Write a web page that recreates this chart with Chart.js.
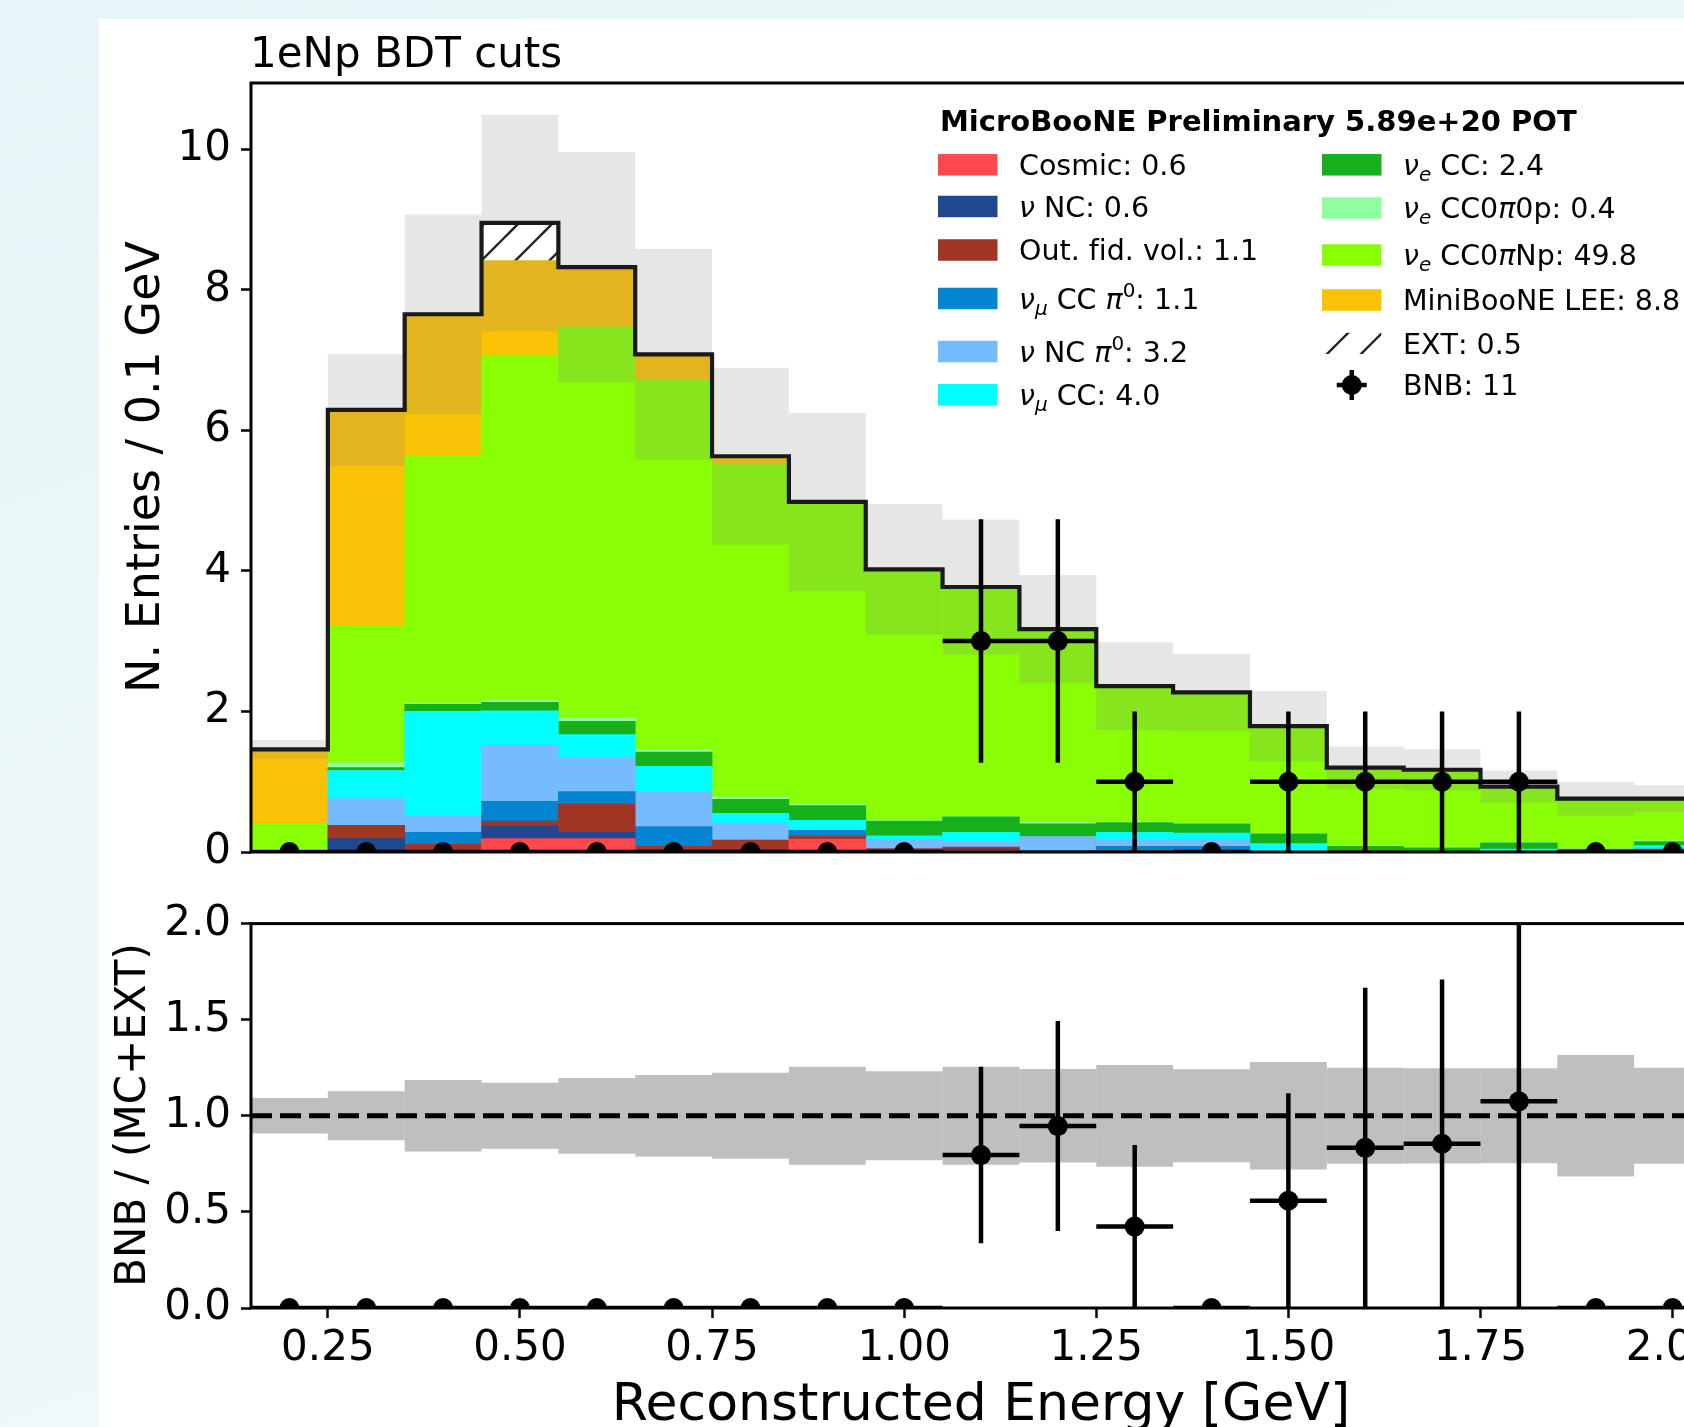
<!DOCTYPE html>
<html>
<head>
<meta charset="utf-8">
<title>1eNp BDT cuts</title>
<script src="https://cdn.jsdelivr.net/npm/chart.js@4.4.1/dist/chart.umd.min.js"></script>
<style>
  html, body { margin: 0; padding: 0; overflow: hidden; }
  body {
    width: 1684px; height: 1427px; position: relative;
    background: linear-gradient(160deg, #e7f5f8 0%, #f1fafc 100%);
  }
  #sheet { position: absolute; left: 99px; top: 19px; right: 0; bottom: 0; background: #fff; }
  #wrap { position: absolute; left: 0; top: 0; width: 1684px; height: 1427px; overflow: hidden; }
  #wrap canvas { position: absolute; left: 0; }
  #main { top: 0; }
  #ratio { top: 880px; }
</style>
</head>
<body>
<div id="sheet"></div>
<div id="wrap">
  <canvas id="main" width="1760" height="880"></canvas>
  <canvas id="ratio" width="1760" height="547"></canvas>
</div>
<script>
const FONT = '"DejaVu Sans", sans-serif';
Chart.defaults.font.family = FONT;
Chart.defaults.color = '#000';

// 0.1 GeV bins from 0.15 to 2.05 GeV
const binCenters = [0.2, 0.3, 0.4, 0.5, 0.6, 0.7, 0.8, 0.9, 1.0, 1.1, 1.2, 1.3, 1.4, 1.5, 1.6, 1.7, 1.8, 1.9, 2.0];
const binWidth = 0.1;
const xRange = [0.15, 2.05];
const xTicks = [0.25, 0.5, 0.75, 1.0, 1.25, 1.5, 1.75, 2.0];
const yTicksMain = [0, 2, 4, 6, 8, 10];
const yMaxMain = 10.94;
const yTicksRatio = [0, 0.5, 1.0, 1.5, 2.0];

// predicted events per bin, one array per category (stack order, bottom first)
const cosmic     = [0, 0, 0, 0.19, 0.19, 0, 0, 0.18, 0, 0.02, 0, 0, 0, 0, 0, 0, 0, 0, 0.02];
const nuNC       = [0, 0.19, 0.02, 0.18, 0.09, 0.03, 0.03, 0, 0.03, 0.02, 0.02, 0, 0.01, 0, 0, 0, 0, 0, 0];
const outFV      = [0, 0.19, 0.09, 0.07, 0.40, 0.05, 0.14, 0.05, 0.02, 0.03, 0, 0.02, 0, 0, 0.02, 0, 0, 0, 0.02];
const numuCCpi0  = [0, 0, 0.17, 0.28, 0.18, 0.28, 0, 0.08, 0, 0, 0, 0.06, 0.07, 0, 0, 0, 0, 0, 0];
const nuNCpi0    = [0, 0.38, 0.24, 0.80, 0.49, 0.49, 0.24, 0, 0.13, 0.08, 0.20, 0.09, 0.10, 0, 0, 0, 0, 0, 0];
const numuCC     = [0.02, 0.40, 1.48, 0.49, 0.32, 0.37, 0.14, 0.14, 0.05, 0.13, 0, 0.11, 0.09, 0.12, 0, 0, 0.04, 0.01, 0.05];
const nueCC      = [0, 0.04, 0.10, 0.12, 0.19, 0.20, 0.20, 0.21, 0.21, 0.22, 0.18, 0.14, 0.13, 0.14, 0.06, 0.06, 0.09, 0.03, 0.06];
const nueCC0pi0p = [0.02, 0.07, 0.02, 0.03, 0.05, 0.04, 0.03, 0.02, 0.01, 0.01, 0.02, 0.01, 0.01, 0.01, 0.01, 0.01, 0.01, 0.01, 0.01];
const nueCC0piNp = [0.36, 1.94, 3.52, 4.91, 5.56, 5.25, 4.73, 4.30, 3.57, 3.26, 2.75, 1.93, 1.86, 1.52, 1.11, 1.10, 0.79, 0.71, 0.60];
const lee        = [1.06, 3.08, 2.01, 1.35, 0.85, 0.37, 0.12, 0, 0, 0, 0, 0, 0, 0, 0, 0, 0, 0, 0];
const ext        = [0, 0, 0, 0.53, 0, 0, 0, 0, 0, 0, 0, 0, 0, 0, 0, 0, 0, 0, 0];
// total MC+EXT uncertainty per bin
const mcErr      = [0.135, 0.80, 1.42, 1.54, 1.64, 1.50, 1.26, 1.27, 0.93, 0.96, 0.77, 0.625, 0.55, 0.50, 0.30, 0.29, 0.23, 0.24, 0.19];
// BNB data counts
const bnb        = [0, 0, 0, 0, 0, 0, 0, 0, 0, 3, 3, 1, 0, 1, 1, 1, 1, 0, 0];

const stackSeries = [cosmic, nuNC, outFV, numuCCpi0, nuNCpi0, numuCC, nueCC, nueCC0pi0p, nueCC0piNp, lee];
const stackColors = ['#ff474c', '#1e488f', '#a03623', '#0485d1', '#75bbfd', '#00ffff', '#15b01a', '#8fff9f', '#89fe05', '#fac205'];
// '_' = subscript, '^' = superscript, greek letters are set oblique
const stackLabels = ['Cosmic', 'ν NC', 'Out. fid. vol.', 'ν_μ CC π^0', 'ν NC π^0', 'ν_μ CC',
                     'ν_e CC', 'ν_e CC0π0p', 'ν_e CC0πNp', 'MiniBooNE LEE'];

const sum = arr => arr.reduce((s, v) => s + v, 0);
const mcOnly = binCenters.map((_, i) => stackSeries.reduce((s, arr) => s + arr[i], 0));
const mcTotal = mcOnly.map((v, i) => v + ext[i]);
const ratio = bnb.map((n, i) => n / mcTotal[i]);
const ratioErr = bnb.map((n, i) => Math.sqrt(n) / mcTotal[i]);
const ratioBand = mcErr.map((e, i) => e / mcTotal[i]);

const PLOT_LEFT = 251;
const HATCH = 34;

function makeHatch(ctx, bg) {
  const c = document.createElement('canvas');
  c.width = c.height = HATCH;
  const g = c.getContext('2d');
  if (bg) { g.fillStyle = bg; g.fillRect(0, 0, HATCH, HATCH); }
  g.strokeStyle = '#222';
  g.lineWidth = 2.3;
  for (let k = -1; k <= 2; k++) {
    const s = 28 + k * HATCH;   // line x + y = s
    g.beginPath();
    g.moveTo(-4, s + 4);
    g.lineTo(s + 4, -4);
    g.stroke();
  }
  return ctx.createPattern(c, 'repeat');
}

// horizontal (bin width) and vertical (y error) bars, separated by gaps
function errorSegments(vals, errs) {
  const pts = [];
  binCenters.forEach((x, i) => {
    const y = vals[i];
    pts.push({ x: x - binWidth / 2, y }, { x: x + binWidth / 2, y }, { x, y: null });
    if (errs[i] > 0) pts.push({ x, y: y - errs[i] }, { x, y: y + errs[i] }, { x, y: null });
  });
  return pts;
}

function xAxis(show) {
  const axis = {
    type: 'linear', min: xRange[0], max: xRange[1], stacked: true, display: show,
    offset: false,
    grid: { offset: false },
    afterBuildTicks: s => { s.ticks = xTicks.map(value => ({ value })); },
  };
  if (show) {
    Object.assign(axis, {
      afterFit: s => { s.height = 119; s.paddingLeft = 0; s.paddingRight = 0; },
      ticks: { font: { size: 42 }, color: '#000', padding: 6, maxRotation: 0, autoSkip: false,
               callback: v => v.toFixed(2) },
      grid: { offset: false, drawOnChartArea: false, drawTicks: true, tickLength: 10, tickWidth: 2.5, tickColor: '#000' },
      border: { display: false },
    });
  }
  return axis;
}

function yAxis(ticks, max, fmt) {
  return {
    type: 'linear', min: 0, max,
    afterBuildTicks: s => { s.ticks = ticks.map(value => ({ value })); },
    afterFit: s => { s.width = PLOT_LEFT; s.paddingTop = 0; s.paddingBottom = 0; },
    ticks: { font: { size: 42 }, color: '#000', padding: 10, autoSkip: false, callback: fmt },
    grid: { drawOnChartArea: false, drawTicks: true, tickLength: 10, tickWidth: 2.5, tickColor: '#000' },
    border: { display: false },
  };
}

const frame = {
  id: 'frame',
  afterDatasetsDraw(chart) {
    const { ctx, chartArea: a } = chart;
    ctx.save();
    ctx.lineWidth = 3;
    ctx.strokeStyle = '#000';
    ctx.strokeRect(a.left, a.top, a.right - a.left, a.bottom - a.top);
    ctx.restore();
  }
};

function drawRich(ctx, label, x, y, size) {
  let cx = x;
  for (let i = 0; i < label.length; i++) {
    let ch = label[i];
    let shift = 0;
    if (ch === '_' || ch === '^') { shift = ch === '_' ? 1 : -1; ch = label[++i]; }
    const italic = 'νμπ'.includes(ch) || (shift === 1 && /[a-z]/.test(ch));
    const fs = shift ? size * 0.7 : size;
    const dy = shift === 1 ? size * 0.2 : shift === -1 ? -size * 0.4 : 0;
    ctx.font = (italic ? 'italic ' : '') + fs + 'px ' + FONT;
    ctx.fillText(ch, cx, y + dy);
    cx += ctx.measureText(ch).width;
  }
}

const legendTitle = 'MicroBooNE Preliminary 5.89e+20 POT';
const legendCols = [
  { patchX: 938, textX: 1019, rows: [164.8, 206.5, 250, 298.5, 351.5, 394.8] },
  { patchX: 1322, textX: 1403, rows: [164.8, 208, 255, 300, 343.3, 385] },
];

function mainText(hatchLegend) {
  return {
    id: 'mainText',
    afterDraw(chart) {
      const ctx = chart.ctx;
      ctx.save();
      ctx.fillStyle = '#000';
      ctx.textBaseline = 'alphabetic';

      ctx.textAlign = 'left';
      ctx.font = '42px ' + FONT;
      ctx.fillText('1eNp BDT cuts', 250, 67);

      ctx.save();
      ctx.translate(159, 467);
      ctx.rotate(-Math.PI / 2);
      ctx.textAlign = 'center';
      ctx.font = '46px ' + FONT;
      ctx.fillText('N. Entries / 0.1 GeV', 0, 0);
      ctx.restore();

      // legend
      const fs = 28.5;
      const pw = 59.5, ph = 21.5;
      ctx.font = 'bold 29px ' + FONT;
      ctx.fillText(legendTitle, 940, 131);

      const entries = stackLabels.map((lab, k) => ({
        kind: 'patch', color: stackColors[k], text: lab + ': ' + sum(stackSeries[k]).toFixed(1)
      }));
      entries.push({ kind: 'hatch', text: 'EXT: ' + sum(ext).toFixed(1) });
      entries.push({ kind: 'data', text: 'BNB: ' + sum(bnb) });

      entries.forEach((e, n) => {
        const col = legendCols[n < 6 ? 0 : 1];
        const cy = col.rows[n % 6];
        const px = col.patchX;
        if (e.kind === 'patch') {
          ctx.fillStyle = e.color;
          ctx.fillRect(px, cy - ph / 2, pw, ph);
        } else if (e.kind === 'hatch') {
          ctx.save();
          ctx.beginPath();
          ctx.rect(px, cy - ph / 2, pw, ph);
          ctx.clip();
          ctx.translate(21, 0);
          ctx.fillStyle = hatchLegend;
          ctx.fillRect(px - 21, cy - ph / 2, pw, ph);
          ctx.restore();
        } else {
          const mx = px + pw / 2;
          ctx.strokeStyle = '#000';
          ctx.lineWidth = 4.5;
          ctx.beginPath();
          ctx.moveTo(mx, cy - 15); ctx.lineTo(mx, cy + 15);
          ctx.moveTo(mx - 15, cy); ctx.lineTo(mx + 15, cy);
          ctx.stroke();
          ctx.fillStyle = '#000';
          ctx.beginPath();
          ctx.arc(mx, cy, 10, 0, Math.PI * 2);
          ctx.fill();
        }
        ctx.fillStyle = '#000';
        drawRich(ctx, e.text, col.textX, cy + fs * 0.729 / 2, fs);
      });
      ctx.restore();
    }
  };
}

const ratioText = {
  id: 'ratioText',
  afterDraw(chart) {
    const ctx = chart.ctx;
    ctx.save();
    ctx.fillStyle = '#000';
    ctx.textBaseline = 'alphabetic';
    ctx.textAlign = 'center';

    ctx.save();
    ctx.translate(145, 235);
    ctx.rotate(-Math.PI / 2);
    ctx.font = '42px ' + FONT;
    ctx.fillText('BNB / (MC+EXT)', 0, 0);
    ctx.restore();

    ctx.font = '52px ' + FONT;
    ctx.fillText('Reconstructed Energy [GeV]', 981, 540);
    ctx.restore();
  }
};

// ---- stacked prediction with data ----
const mainCtx = document.getElementById('main').getContext('2d');
const hatchFill = makeHatch(mainCtx, '#ffffff');
const hatchLegend = makeHatch(mainCtx, null);

const stackDatasets = stackSeries.map((vals, k) => ({
  type: 'bar',
  label: stackLabels[k],
  data: binCenters.map((x, i) => ({ x, y: vals[i] || null })),
  backgroundColor: stackColors[k],
  borderWidth: 0,
  barPercentage: 1,
  categoryPercentage: 1,
  yAxisID: 'y',
  order: 6,
}));

new Chart(mainCtx, {
  type: 'bar',
  data: {
    datasets: [
      ...stackDatasets,
      {
        type: 'bar', label: 'MC uncertainty',
        data: binCenters.map((x, i) => ({ x, y: [mcTotal[i] - mcErr[i], mcTotal[i] + mcErr[i]] })),
        backgroundColor: 'rgba(128,128,128,0.2)', borderWidth: 0, inflateAmount: 0,
        barPercentage: 1, categoryPercentage: 1, grouped: false, yAxisID: 'yb', order: 5,
      },
      {
        type: 'bar', label: 'EXT',
        data: binCenters.map((x, i) => ({ x, y: ext[i] ? [mcOnly[i], mcTotal[i]] : null })),
        backgroundColor: hatchFill, borderWidth: 0, inflateAmount: 0,
        barPercentage: 1, categoryPercentage: 1, grouped: false, yAxisID: 'yb', order: 4,
      },
      {
        type: 'line', label: 'total',
        data: [...binCenters.map((x, i) => ({ x: x - binWidth / 2, y: mcTotal[i] })),
               { x: binCenters[binCenters.length - 1] + binWidth / 2, y: mcTotal[mcTotal.length - 1] }],
        stepped: 'before', borderColor: '#1a1a1a', borderWidth: 4.2, borderJoinStyle: 'miter',
        pointRadius: 0, fill: false, yAxisID: 'yb', order: 3, clip: 0,
      },
      {
        type: 'line', label: 'BNB errors',
        data: errorSegments(bnb, bnb.map(n => Math.sqrt(n))),
        borderColor: '#000', borderWidth: 4.5, pointRadius: 0, spanGaps: false, fill: false,
        yAxisID: 'yb', order: 2, clip: 0,
      },
      {
        type: 'line', label: 'BNB',
        data: binCenters.map((x, i) => ({ x, y: bnb[i] })),
        showLine: false, pointRadius: 10, pointBackgroundColor: '#000', pointBorderWidth: 0,
        yAxisID: 'yb', order: 1, clip: 0,
      },
    ]
  },
  options: {
    responsive: false,
    animation: false,
    events: [],
    layout: { padding: { left: 0, top: 83, right: 49, bottom: 28 } },
    plugins: { legend: { display: false }, tooltip: { enabled: false } },
    scales: {
      x: xAxis(false),
      y: Object.assign(yAxis(yTicksMain, yMaxMain, v => String(v)), { stacked: true }),
      yb: { type: 'linear', min: 0, max: yMaxMain, display: false },
    }
  },
  plugins: [frame, mainText(hatchLegend)]
});

// ---- data / prediction ratio ----
new Chart(document.getElementById('ratio'), {
  type: 'bar',
  data: {
    datasets: [
      {
        type: 'bar', label: 'uncertainty',
        data: binCenters.map((x, i) => ({ x, y: [1 - ratioBand[i], 1 + ratioBand[i]] })),
        backgroundColor: 'rgba(128,128,128,0.5)', borderWidth: 0, inflateAmount: 0,
        barPercentage: 1, categoryPercentage: 1, grouped: false, order: 4,
      },
      {
        type: 'line', label: 'unity',
        data: [{ x: xRange[0], y: 1 }, { x: xRange[1], y: 1 }],
        borderColor: '#000', borderWidth: 5, borderDash: [21, 8], pointRadius: 0, order: 3, clip: 0,
      },
      {
        type: 'line', label: 'ratio errors',
        data: errorSegments(ratio, ratioErr),
        borderColor: '#000', borderWidth: 4.5, pointRadius: 0, spanGaps: false, order: 2, clip: 0,
      },
      {
        type: 'line', label: 'ratio',
        data: binCenters.map((x, i) => ({ x, y: ratio[i] })),
        showLine: false, pointRadius: 10, pointBackgroundColor: '#000', pointBorderWidth: 0,
        order: 1, clip: 0,
      },
    ]
  },
  options: {
    responsive: false,
    animation: false,
    events: [],
    layout: { padding: { left: 0, top: 43.6, right: 49, bottom: 0 } },
    plugins: { legend: { display: false }, tooltip: { enabled: false } },
    scales: {
      x: xAxis(true),
      y: yAxis(yTicksRatio, 2, v => v.toFixed(1)),
    }
  },
  plugins: [frame, ratioText]
});
</script>
</body>
</html>
